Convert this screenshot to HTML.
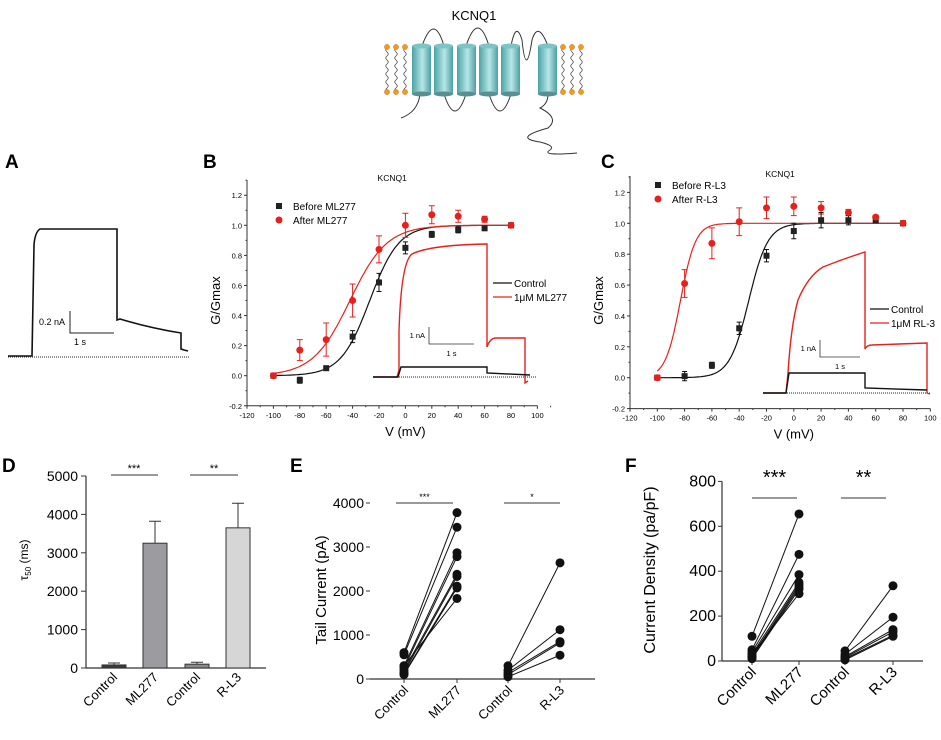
<!DOCTYPE html>
<html><head><meta charset="utf-8"><style>
body{margin:0;background:#fff}
svg{display:block;font-family:"Liberation Sans",Arial,sans-serif}
</style></head><body>
<svg id="fig" width="941" height="740" viewBox="0 0 941 740">
<g id="schem"></g>
<g id="pa"></g>
<g id="pb"></g>
<g id="pc"></g>
<g id="pd"></g>
<g id="pe"></g>
<g id="pf"></g>
</svg>
<script>
// ---- data ----
const bVolt=[-100,-80,-60,-40,-20,0,20,40,60,80];
const bBefore=[0,-0.03,0.05,0.26,0.62,0.85,0.94,0.97,0.98,1.0];
const bBeforeErr=[0.01,0.02,0.01,0.04,0.06,0.04,0.02,0.02,0.01,0];
const bAfter=[0,0.17,0.24,0.5,0.84,1.0,1.07,1.06,1.04,1.0];
const bAfterErr=[0.01,0.07,0.11,0.11,0.09,0.08,0.06,0.04,0.02,0];
const bFitBefore=[-27,11];
const bFitAfter=[-42,14];
const cVolt=[-100,-80,-60,-40,-20,0,20,40,60,80];
const cBefore=[0,0.01,0.08,0.32,0.79,0.95,1.02,1.02,1.02,1.0];
const cBeforeErr=[0.01,0.03,0.02,0.04,0.04,0.05,0.05,0.03,0.01,0];
const cAfter=[0,0.61,0.87,1.01,1.1,1.11,1.1,1.07,1.04,1.0];
const cAfterErr=[0.01,0.09,0.1,0.09,0.07,0.06,0.04,0.02,0.01,0];
const cFitBefore=[-33,7];
const cFitAfter=[-83,5.5];
const vTicks=[-120,-100,-80,-60,-40,-20,0,20,40,60,80,100];
const gTicks=[-0.2,0,0.2,0.4,0.6,0.8,1.0,1.2];
const dCats=["Control","ML277","Control","R-L3"];
const dVals=[80,3250,100,3650];
const dErr=[50,570,50,640];
const dTicks=[0,1000,2000,3000,4000,5000];
const eCats=["Control","ML277","Control","R-L3"];
const eMLctrl=[600,550,300,250,200,150,120,100,300];
const eMLdrug=[3780,3450,2870,2780,2380,2330,2110,2070,1830];
const eRLctrl=[300,200,150,100,50];
const eRLdrug=[2640,1120,850,820,540];
const eTicks=[0,1000,2000,3000,4000];
const fCats=["Control","ML277","Control","R-L3"];
const fMLctrl=[110,50,40,30,20,15,10,30];
const fMLdrug=[655,475,385,350,340,330,320,300];
const fRLctrl=[45,30,20,15,10,5];
const fRLdrug=[335,195,140,130,115,110];
const fTicks=[0,200,400,600,800];

const NS="http://www.w3.org/2000/svg";
function el(p,t,a,txt){const e=document.createElementNS(NS,t);for(const k in a)e.setAttribute(k,a[k]);if(txt!==undefined)e.textContent=txt;p.appendChild(e);return e;}
function txt(p,x,y,s,size,extra,name){const a=Object.assign({x:x,y:y,'font-size':size},extra||{});const e=el(p,'text',a,s);

return e;}
function boltz(v,p){return 1/(1+Math.exp((p[0]-v)/p[1]));}

// ---- schematic ----
(function(){
const g=document.getElementById('schem');
txt(g,474,20,'KCNQ1',13,{'text-anchor':'middle'},'schematic-title');
const defs=el(g,'defs',{});
const lg=el(defs,'linearGradient',{id:'cyl',x1:0,x2:1,y1:0,y2:0});
el(lg,'stop',{offset:'0','stop-color':'#4aa3a6'});el(lg,'stop',{offset:'0.55','stop-color':'#b8e6e6'});el(lg,'stop',{offset:'1','stop-color':'#4c9fa2'});
// lipids
[387,396,405,563,572,581].forEach(x=>{
 let d='M'+x+' 48';for(let y=48;y<92;y+=4)d+=' Q'+(x+(((y/4)%2)?2.5:-2.5))+' '+(y+2)+' '+x+' '+(y+4);
 const p=el(g,'path',{d:d,fill:'none',stroke:'#333','stroke-width':0.7});
 
 [47,92].forEach(y=>{const c=el(g,'circle',{cx:x,cy:y,r:2.6,fill:'#f39a1d',stroke:'#b86a00','stroke-width':0.4});
 });
});
// loops
el(g,'path',{d:'M420 94 Q418 112 401 118',fill:'none',stroke:'#333','stroke-width':1});
el(g,'path',{d:'M422 46 Q434 12 444 46',fill:'none',stroke:'#333','stroke-width':1});
el(g,'path',{d:'M444 94 Q455 128 466 94',fill:'none',stroke:'#333','stroke-width':1});
el(g,'path',{d:'M466 46 Q478 10 489 46',fill:'none',stroke:'#333','stroke-width':1});
el(g,'path',{d:'M489 94 Q500 128 511 94',fill:'none',stroke:'#333','stroke-width':1});
el(g,'path',{d:'M511 46 Q516 20 522 40 Q526 80 532 40 Q538 20 548 46',fill:'none',stroke:'#333','stroke-width':1});
el(g,'path',{d:'M548 94 Q548 104 540 108 Q560 118 548 128 Q512 138 540 142 Q556 146 550 150 Q540 156 577 153',fill:'none',stroke:'#333','stroke-width':1});
[412,434,457,479,501,538].forEach((x,i)=>{
 const r=el(g,'rect',{x:x,y:46,width:19,height:48,fill:'url(#cyl)'});
 
 el(g,'ellipse',{cx:x+9.5,cy:46,rx:9.5,ry:2.5,fill:'#7cc4c6'});
 el(g,'ellipse',{cx:x+9.5,cy:94,rx:9.5,ry:2.5,fill:'#5a8f91'});
});
})();

// ---- panel A ----
(function(){
const g=document.getElementById('pa');
txt(g,5,168,'A',19,{'font-weight':'bold'},'panel-a-label');
el(g,'line',{x1:8,y1:357,x2:190,y2:357,stroke:'#222','stroke-width':1,'stroke-dasharray':'1,1'});
const p=el(g,'path',{d:'M8 356 L32 356 L34 245 Q35 232 40 229 L117 229 L117 320 L120 319 Q150 328 181 333 L181 349 L184 350 L188 351',fill:'none',stroke:'#111','stroke-width':1.6});

el(g,'path',{d:'M70 311 L70 333 L114 333',fill:'none',stroke:'#222','stroke-width':1});
txt(g,39,325,'0.2 nA',9,{},'scale-current');
txt(g,74,345,'1 s',9,{},'scale-time');
})();

// ---- GV panels ----
function gvPanel(id,letter,L,title,volt,bef,befE,aft,aftE,fitB,fitA,leg){
const g=document.getElementById(id);
const X=v=>L.x0+(v+120)*L.sx, Y=v=>L.y0-v*L.sy;
txt(g,L.lx,168,letter,19,{'font-weight':'bold'},'panel-label');
txt(g,X(-10),L.ty,title,8.5,{'text-anchor':'middle'},'plot-title');
// axes
el(g,'line',{x1:X(-120),y1:Y(-0.2),x2:X(100),y2:Y(-0.2),stroke:'#333','stroke-width':1});
el(g,'line',{x1:X(-120),y1:Y(-0.2),x2:X(-120),y2:L.top,stroke:'#333','stroke-width':1});
vTicks.forEach(v=>{el(g,'line',{x1:X(v),y1:Y(-0.2),x2:X(v),y2:Y(-0.2)+3,stroke:'#333'});
 el(g,'line',{x1:X(v+10),y1:Y(-0.2),x2:X(v+10),y2:Y(-0.2)+1.5,stroke:'#333'});
 txt(g,X(v),Y(-0.2)+12,String(v),7.5,{'text-anchor':'middle'},'x-tick-label');});
gTicks.forEach(v=>{el(g,'line',{x1:X(-120),y1:Y(v),x2:X(-120)-3,y2:Y(v),stroke:'#333'});
 el(g,'line',{x1:X(-120),y1:Y(v+0.1),x2:X(-120)-1.5,y2:Y(v+0.1),stroke:'#333'});
 txt(g,X(-120)-5,Y(v)+3,v.toFixed(1),7.5,{'text-anchor':'end'},'y-tick-label');});
const yl=txt(g,0,0,'G/Gmax',13,{'text-anchor':'middle',transform:'translate('+(L.x0-27)+','+Y(0.5)+') rotate(-90)'},'y-axis-title');
txt(g,X(0),Y(-0.2)+30,'V (mV)',13,{'text-anchor':'middle'},'x-axis-title');
// inset traces
const I=L.inset;
el(g,'line',{x1:I.x0,y1:I.base,x2:I.x1,y2:I.base,stroke:'#222','stroke-width':1,'stroke-dasharray':'1,1'});
const rt=el(g,'path',{d:I.red,fill:'none',stroke:'#e8201c','stroke-width':1.4});

const bt=el(g,'path',{d:I.black,fill:'none',stroke:'#111','stroke-width':1.4});

el(g,'path',{d:'M'+I.sx+' '+I.sy+' L'+I.sx+' '+(I.sy+17)+' L'+(I.sx+I.sw)+' '+(I.sy+17),fill:'none',stroke:'#333','stroke-width':0.8});
txt(g,I.sx-4,I.sy+11,'1 nA',7.5,{'text-anchor':'end'},'scale-current');
txt(g,I.sx+I.sw/2,I.sy+29,'1 s',7.5,{'text-anchor':'middle'},'scale-time');
el(g,'line',{x1:I.lx,y1:I.ly,x2:I.lx+19,y2:I.ly,stroke:'#111','stroke-width':1.3});
el(g,'line',{x1:I.lx,y1:I.ly+14,x2:I.lx+19,y2:I.ly+14,stroke:'#e8201c','stroke-width':1.3});
txt(g,I.lx+21,I.ly+4,'Control',10,{},'inset-legend-control');
txt(g,I.lx+21,I.ly+18,leg[2],10,{},'inset-legend-drug');
// fits
function fit(p,col,start,name){let d='';for(let v=start;v<=80;v+=1)d+=(d?' L':'M')+X(v).toFixed(1)+' '+Y(boltz(v,p)).toFixed(1);
 const e=el(g,'path',{d:d,fill:'none',stroke:col,'stroke-width':1.2});}
fit(fitB,'#111',-100,'fit-before');fit(fitA,'#e8201c',-100,'fit-after');
// points
volt.forEach((v,i)=>{
 el(g,'path',{d:'M'+X(v)+' '+Y(aft[i]-aftE[i])+' V'+Y(aft[i]+aftE[i])+' M'+(X(v)-3)+' '+Y(aft[i]-aftE[i])+' h6 M'+(X(v)-3)+' '+Y(aft[i]+aftE[i])+' h6',stroke:'#e8201c','stroke-width':1,fill:'none'});
 el(g,'path',{d:'M'+X(v)+' '+Y(bef[i]-befE[i])+' V'+Y(bef[i]+befE[i])+' M'+(X(v)-2.5)+' '+Y(bef[i]-befE[i])+' h5 M'+(X(v)-2.5)+' '+Y(bef[i]+befE[i])+' h5',stroke:'#111','stroke-width':1,fill:'none'});
});
volt.forEach((v,i)=>{
 const s=el(g,'rect',{x:X(v)-3,y:Y(bef[i])-3,width:6,height:6,fill:'#222'});
 
});
volt.forEach((v,i)=>{
 const c=el(g,'circle',{cx:X(v),cy:Y(aft[i]),r:3.5,fill:'#e8201c'});
 
});
// legend
el(g,'rect',{x:L.gx-3,y:L.gy-3,width:6,height:6,fill:'#222'});
el(g,'circle',{cx:L.gx,cy:L.gy+14,r:3.5,fill:'#e8201c'});
txt(g,L.gx+14,L.gy+4,leg[0],10,{},'legend-before');
txt(g,L.gx+14,L.gy+18,leg[1],10,{},'legend-after');
}
gvPanel('pb','B',{x0:247,sx:26.4/20,y0:375.7,sy:150.4,top:180,lx:203,ty:181,gx:279,gy:206,
 inset:{x0:373,x1:537,base:377,
  red:'M373 377 L397 377 L399 370 L399 332 Q401 262 412 254 Q430 245 487 244 L487 347 Q490 338 496 338 L525 338 L525 383 L528 381',
  black:'M373 377 L398 377 L401 367 L487 367 L487 373 Q510 374 530 375',
  sx:429,sy:327,sw:45,lx:493,ly:283}},
 'KCNQ1',bVolt,bBefore,bBeforeErr,bAfter,bAfterErr,bFitBefore,bFitAfter,['Before ML277','After ML277','1\u03bcM ML277']);
gvPanel('pc','C',{x0:630,sx:27.3/20,y0:377.7,sy:154.4,top:176,lx:601,ty:177,gx:658,gy:185,
 inset:{x0:763,x1:930,base:393,
  red:'M763 393 L786 393 L788 373 Q791 325 798 300 Q808 276 823 267 Q843 259 865 252 L865 349 Q867 345 872 345 L927 343 L927 393 L930 394',
  black:'M763 393 L786 393 L789 373 L865 373 L865 388 Q900 389 927 390',
  sx:820,sy:340,sw:40,lx:870,ly:309}},
 'KCNQ1',cVolt,cBefore,cBeforeErr,cAfter,cAfterErr,cFitBefore,cFitAfter,['Before R-L3','After R-L3','1\u03bcM RL-3']);

// ---- panel D ----
(function(){
const g=document.getElementById('pd');
const Y=v=>668-v*0.0384; const xs=[114,155,197,238];
const cols=['#3a3a3a','#9b9ba0','#8a8a8a','#d6d6d6'];
txt(g,2,472,'D',19,{'font-weight':'bold'},'panel-label');
el(g,'line',{x1:86,y1:Y(0),x2:266,y2:Y(0),stroke:'#333','stroke-width':1.2});
el(g,'line',{x1:86,y1:Y(0),x2:86,y2:Y(5000),stroke:'#333','stroke-width':1.2});
dTicks.forEach(v=>{el(g,'line',{x1:81,y1:Y(v),x2:86,y2:Y(v),stroke:'#333'});
 txt(g,78,Y(v)+5,String(v),14,{'text-anchor':'end'},'y-tick-label');});
const t=el(g,'text',{'font-size':12,'text-anchor':'middle',transform:'translate(28,560) rotate(-90)'});

t.innerHTML='\u03c4<tspan font-size="8" dy="3">50</tspan><tspan dy="-3"> (ms)</tspan>';
dVals.forEach((v,i)=>{
 el(g,'path',{d:'M'+xs[i]+' '+Y(v)+' V'+Y(v+dErr[i])+' M'+(xs[i]-6)+' '+Y(v+dErr[i])+' h12',stroke:'#333',fill:'none'});
 const r=el(g,'rect',{x:xs[i]-12,y:Y(v),width:24,height:Y(0)-Y(v),fill:cols[i],stroke:'#333','stroke-width':1});
 
 txt(g,0,0,dCats[i],13,{'text-anchor':'end',transform:'translate('+(xs[i]+4)+','+(Y(0)+10)+') rotate(-45)'},'x-tick-label');
});
el(g,'line',{x1:111,y1:475,x2:158,y2:475,stroke:'#333'});
el(g,'line',{x1:190,y1:475,x2:238,y2:475,stroke:'#333'});
txt(g,134,472,'***',11,{'text-anchor':'middle'},'significance-ml277');
txt(g,214,472,'**',11,{'text-anchor':'middle'},'significance-rl3');
})();

// ---- paired panels ----
function paired(id,letter,o){
const g=document.getElementById(id);
const Y=v=>o.y0-v*o.sy;
txt(g,o.lx,472,letter,19,{'font-weight':'bold'},'panel-label');
el(g,'line',{x1:o.ax,y1:Y(0),x2:o.ax2,y2:Y(0),stroke:'#333','stroke-width':1.2});
if(o.yaxis)el(g,'line',{x1:o.ax,y1:Y(0),x2:o.ax,y2:Y(o.ticks[o.ticks.length-1]),stroke:'#333','stroke-width':1.2});
o.ticks.forEach(v=>{el(g,'line',{x1:o.ax-4,y1:Y(v),x2:o.ax,y2:Y(v),stroke:'#333'});
 txt(g,o.ax-6,Y(v)+5,String(v),o.fs,{'text-anchor':'end'},'y-tick-label');});
txt(g,0,0,o.ylab,o.yfs,{'text-anchor':'middle',transform:'translate('+o.ylx+','+o.yly+') rotate(-90)'},'y-axis-title');
o.cats.forEach((c,i)=>{el(g,'line',{x1:o.xs[i],y1:Y(0),x2:o.xs[i],y2:Y(0)+4,stroke:'#333'});
 txt(g,0,0,c,o.cfs,{'text-anchor':'end',transform:'translate('+(o.xs[i]+5)+','+(Y(0)+12)+') rotate(-45)'},'x-tick-label');});
function pairs(a,b,x1,x2,nm){a.forEach((v,i)=>{
 const l=el(g,'line',{x1:x1,y1:Y(v),x2:x2,y2:Y(b[i]),stroke:'#111','stroke-width':1});
 });
 a.forEach((v,i)=>{const c=el(g,'circle',{cx:x1,cy:Y(v),r:o.r,fill:'#111'});
 const d=el(g,'circle',{cx:x2,cy:Y(b[i]),r:o.r,fill:'#111'});});}
pairs(o.a1,o.b1,o.xs[0],o.xs[1],'ml277');pairs(o.a2,o.b2,o.xs[2],o.xs[3],'rl3');
o.sig.forEach(s=>{el(g,'line',{x1:s[0],y1:o.sy0,x2:s[1],y2:o.sy0,stroke:'#333'});
 txt(g,(s[0]+s[1])/2,o.sy0+o.soff,s[2],o.sfs,{'text-anchor':'middle'},'significance');});
}
paired('pe','E',{y0:679,sy:0.044,ax:370,ax2:595,yaxis:false,ticks:eTicks,fs:14,lx:290,
 ylab:'Tail Current (pA)',yfs:15,ylx:326,yly:590,cats:eCats,cfs:13,xs:[404,457,508,560],r:4.5,
 a1:eMLctrl,b1:eMLdrug,a2:eRLctrl,b2:eRLdrug,sy0:503,soff:-3,sfs:9,sig:[[396,453,'***'],[504,560,'*']]});
paired('pf','F',{y0:661,sy:0.2245,ax:722,ax2:923,yaxis:true,ticks:fTicks,fs:16,lx:625,
 ylab:'Current Density (pa/pF)',yfs:16,ylx:655,yly:570,cats:fCats,cfs:15,xs:[752,799,845,893],r:4.5,
 a1:fMLctrl,b1:fMLdrug,a2:fRLctrl,b2:fRLdrug,sy0:498,soff:-14,sfs:20,sig:[[752,797,'***'],[841,886,'**']]});
</script>
</body></html>
